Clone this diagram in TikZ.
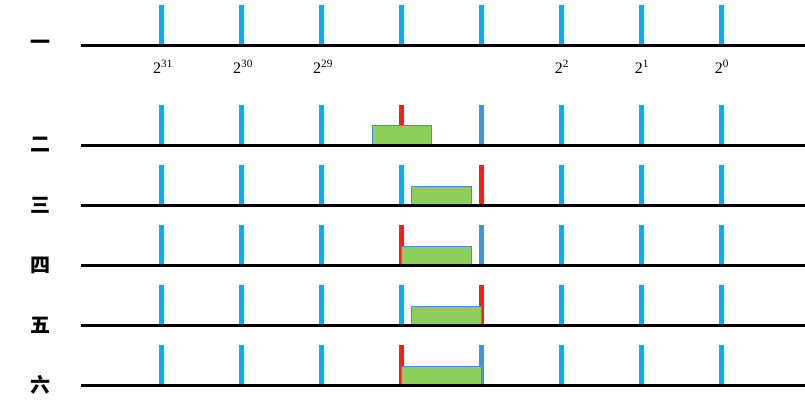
\documentclass[tikz,border=0pt]{standalone}
\usepackage{fontspec}
\setmainfont{Liberation Serif}
\newfontfamily\cjk{Noto Sans CJK SC}
\definecolor{cyanbar}{HTML}{00B0F0}
\definecolor{redbar}{HTML}{FF1A1A}
\definecolor{darkbar}{HTML}{3A98DA}
\definecolor{boxfill}{HTML}{8CCF5A}
\definecolor{boxline}{HTML}{3C90D8}
\tikzset{
	axisline/.style={line width=3pt,black},
	rowlabel/.style={font=\cjk\bfseries\fontsize{20}{20}\selectfont},
	power/.style={font=\fontsize{16}{16}\selectfont},
	window/.style={fill=boxfill,draw=boxline,line width=1pt}
}
\begin{document}
\begin{tikzpicture}[x=1pt,y=-1pt]
	\useasboundingbox (0,0) rectangle (805,407);
	%bars
	\foreach \y in {45,145,205,265,325,385}
		\foreach \x in {161,241,321,561,641,721}
			\fill[cyanbar] (\x-2.5,\y-40) rectangle (\x+2.5,\y);
	\fill[cyanbar] (398.5,5) rectangle (403.5,45);
	\fill[cyanbar] (478.5,5) rectangle (483.5,45);
	%二
	\fill[redbar] (398.5,105) rectangle (403.5,145);
	\fill[darkbar] (478.5,105) rectangle (483.5,145);
	\draw[window] (372,125) rectangle (431,144);
	%三
	\fill[cyanbar] (398.5,165) rectangle (403.5,205);
	\fill[redbar] (478.5,165) rectangle (483.5,205);
	\draw[window] (411,186) rectangle (471,204);
	%四
	\fill[redbar] (398.5,225) rectangle (403.5,265);
	\fill[darkbar] (478.5,225) rectangle (483.5,265);
	\draw[window] (401.5,246) rectangle (471,264);
	%五
	\fill[cyanbar] (398.5,285) rectangle (403.5,325);
	\fill[redbar] (478.5,285) rectangle (483.5,325);
	\draw[window] (411,306) rectangle (481,324);
	%六
	\fill[redbar] (398.5,345) rectangle (403.5,385);
	\fill[darkbar] (478.5,345) rectangle (483.5,385);
	\draw[window] (401.5,366) rectangle (481,384);
	%axes
	\foreach \y in {45,145,205,265,325,385}
		\draw[axisline] (81,\y) -- (805,\y);
	\node[rowlabel] (one) at (40,45) {一};
	\node[rowlabel] (two) at (40,145) {二};
	\node[rowlabel] (three) at (40,205) {三};
	\node[rowlabel] (four) at (40,265) {四};
	\node[rowlabel] (five) at (40,325) {五};
	\node[rowlabel] (six) at (40,385) {六};
	%powers
	\node[power] (p31) at (163,67) {2\textsuperscript{31}};
	\node[power] (p30) at (243,67) {2\textsuperscript{30}};
	\node[power] (p29) at (323,67) {2\textsuperscript{29}};
	\node[power] (p2) at (562,67) {2\textsuperscript{2}};
	\node[power] (p1) at (642,67) {2\textsuperscript{1}};
	\node[power] (p0) at (722,67) {2\textsuperscript{0}};
\end{tikzpicture}
\end{document}
